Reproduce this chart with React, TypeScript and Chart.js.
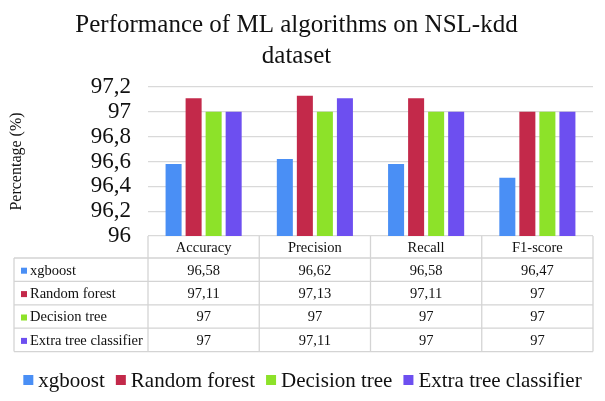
import { useEffect, useRef } from 'react';
import { Chart, registerables } from 'chart.js';

Chart.register(...registerables);

const FONT = "'Liberation Serif', 'Times New Roman', serif";

const metrics = ['Accuracy', 'Precision', 'Recall', 'F1-score'];
const models = ['xgboost', 'Random forest', 'Decision tree', 'Extra tree classifier'];
const xgboost = [96.58, 96.62, 96.58, 96.47];
const randomForest = [97.11, 97.13, 97.11, 97];
const decisionTree = [97, 97, 97, 97];
const extraTree = [97, 97.11, 97, 97];
const seriesValues = [xgboost, randomForest, decisionTree, extraTree];
const colors = ['#4a8ff5', '#c3294a', '#8de229', '#6d4ff0'];

const yMin = 96;
const yMax = 97.2;
const yStep = 0.2;

const fmt = (v: number) => String(Math.round(v * 100) / 100).replace('.', ',');

// data table under the x axis + bottom legend, drawn from the x scale
const tablePlugin = {
  id: 'dataTable',
  afterDraw(chart: Chart) {
    const { ctx, chartArea } = chart;
    const x = chart.scales.x;
    const n = metrics.length;
    const colW = (x.right - x.left) / n;
    const left = 14;
    const top = chartArea.bottom;
    const headH = 22;
    const rowH = 23.4;
    const bottom = top + headH + rowH * models.length;

    ctx.save();
    ctx.strokeStyle = '#d4d4d4';
    ctx.lineWidth = 1.3;
    ctx.beginPath();
    for (let i = 0; i <= n; i++) {
      const px = x.left + colW * i;
      ctx.moveTo(px, top);
      ctx.lineTo(px, bottom);
    }
    ctx.moveTo(left, top + headH);
    ctx.lineTo(left, bottom);
    for (let r = 0; r <= models.length; r++) {
      const py = top + headH + rowH * r;
      ctx.moveTo(left, py);
      ctx.lineTo(x.right, py);
    }
    ctx.stroke();

    ctx.fillStyle = '#111';
    ctx.font = `14.5px ${FONT}`;
    ctx.textBaseline = 'middle';
    ctx.textAlign = 'center';
    metrics.forEach((m, i) => ctx.fillText(m, x.getPixelForValue(i), top + headH / 2 + 1));

    chart.data.datasets.forEach((ds, r) => {
      const cy = top + headH + rowH * r + rowH / 2 + 1;
      ctx.fillStyle = ds.backgroundColor as string;
      ctx.fillRect(21, cy - 3, 6, 6);
      ctx.fillStyle = '#111';
      ctx.textAlign = 'left';
      ctx.fillText(ds.label as string, 30, cy);
      ctx.textAlign = 'center';
      (ds.data as number[]).forEach((v, i) => ctx.fillText(fmt(v), x.getPixelForValue(i), cy));
    });

    // legend
    ctx.font = `21px ${FONT}`;
    const box = 10;
    const gap = 5;
    const itemGap = 11;
    const widths = models.map((m) => box + gap + ctx.measureText(m).width);
    const total = widths.reduce((a, b) => a + b, 0) + itemGap * (models.length - 1);
    let lx = (chart.width - total) / 2;
    const ly = 380;
    chart.data.datasets.forEach((ds, i) => {
      ctx.fillStyle = ds.backgroundColor as string;
      ctx.fillRect(lx, ly - box / 2, box, box);
      ctx.fillStyle = '#111';
      ctx.textAlign = 'left';
      ctx.fillText(ds.label as string, lx + box + gap, ly + 1);
      lx += widths[i] + itemGap;
    });
    ctx.restore();
  }
};

export default function App() {
  const ref = useRef<HTMLCanvasElement | null>(null);

  useEffect(() => {
    document.body.style.margin = '0';
    if (!ref.current) return;
    const chart = new Chart(ref.current, {
      type: 'bar',
      data: {
        labels: metrics,
        datasets: models.map((m, i) => ({
          label: m,
          data: seriesValues[i],
          backgroundColor: colors[i],
          categoryPercentage: 0.72,
          barPercentage: 0.8
        }))
      },
      options: {
        responsive: true,
        maintainAspectRatio: false,
        animation: false,
        layout: { padding: { left: 0, right: 12, top: 0, bottom: 49 } },
        plugins: {
          legend: { display: false },
          tooltip: { enabled: false },
          title: {
            display: true,
            text: ['Performance of ML algorithms on NSL-kdd', 'dataset'],
            color: '#111',
            font: { family: FONT, size: 25, weight: 'normal', lineHeight: 1.25 },
            padding: { top: 10, bottom: 14.5 }
          }
        },
        scales: {
          x: {
            grid: { display: false },
            border: { display: false },
            ticks: { display: false },
            afterFit: (s) => {
              s.height = 116;
            }
          },
          y: {
            min: yMin,
            max: yMax,
            grid: { color: '#d9d9d9', lineWidth: 1.3, drawTicks: false },
            border: { display: false },
            ticks: {
              stepSize: yStep,
              autoSkip: false,
              padding: 17,
              color: '#111',
              font: { family: FONT, size: 23 },
              callback: (v) => fmt(Number(v))
            },
            title: {
              display: true,
              text: 'Percentage (%)',
              color: '#111',
              font: { family: FONT, size: 16 },
              padding: { top: 7, bottom: 4 }
            },
            afterFit: (s) => {
              s.width = 148;
            }
          }
        }
      },
      plugins: [tablePlugin]
    });
    return () => chart.destroy();
  }, []);

  return (
    <div style={{ width: 605, height: 401, position: 'relative' }}>
      <canvas ref={ref} />
    </div>
  );
}
